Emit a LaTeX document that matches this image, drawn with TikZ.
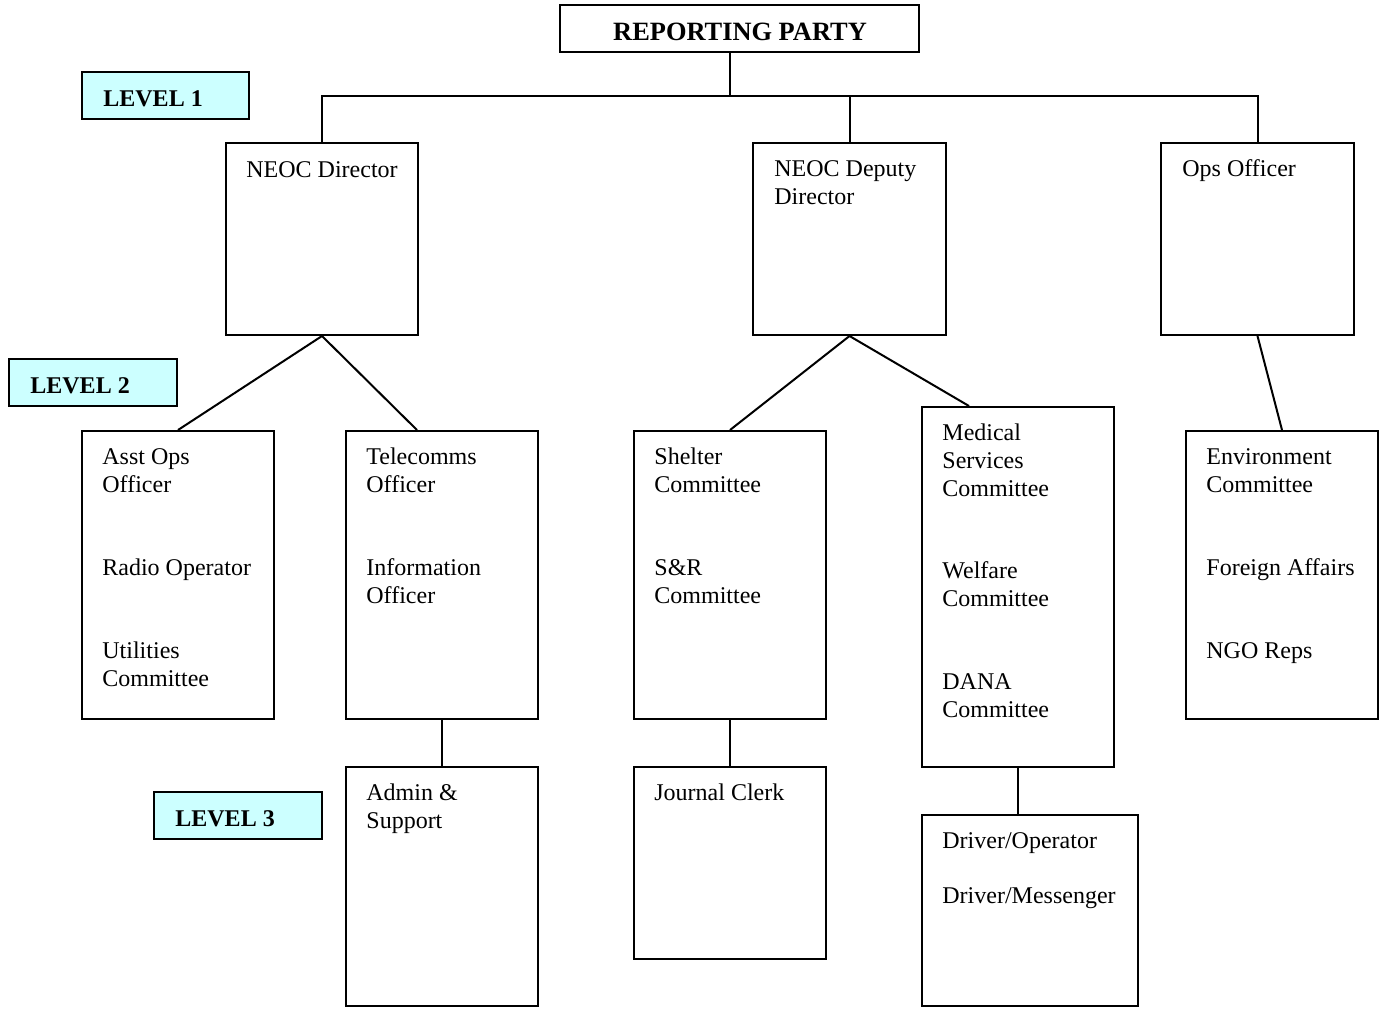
\documentclass[tikz,border=0pt]{standalone}
\usepackage{fontspec}
\setmainfont{Liberation Serif}
\usetikzlibrary{fit}
\definecolor{lvlcyan}{HTML}{CCFFFF}
\begin{document}
\begin{tikzpicture}[x=0.5pt,y=-0.5pt,
  every node/.style={font=\fontsize{12}{14}\selectfont},
  box/.style={draw=black,line width=1pt,inner sep=0pt},
  lvl/.style={draw=black,line width=1pt,inner sep=0pt,fill=lvlcyan},
  txt/.style={anchor=base west,inner sep=0pt,align=left},
  lvltxt/.style={anchor=base west,inner sep=0pt,font=\fontsize{12}{14}\selectfont\bfseries},
  conn/.style={line width=1pt}]
\useasboundingbox (0,0) rectangle (1385,1008);
% top
\node[box,fit={(560,5) (919,52)}] (rp) {};
\node[inner sep=0pt,anchor=base,font=\fontsize{13.2}{15}\selectfont\bfseries] (rpt) at (740,40) {REPORTING PARTY};
% level labels
\node[lvl,fit={(82,72) (249,119)}] (l1) {};
\node[lvltxt] (l1t) at (103,106) {LEVEL 1};
\node[lvl,fit={(9,359) (177,406)}] (l2) {};
\node[lvltxt] (l2t) at (30,393) {LEVEL 2};
\node[lvl,fit={(154,792) (322,839)}] (l3) {};
\node[lvltxt] (l3t) at (175,826) {LEVEL 3};
% level 1 boxes
\node[box,fit={(226,143) (418,335)}] (dir) {};
\node[box,fit={(753,143) (946,335)}] (dep) {};
\node[box,fit={(1161,143) (1354,335)}] (ops) {};
\node[txt] at (246,177) {NEOC Director};
\node[txt] at (774,204) {NEOC Deputy\\Director};
\node[txt] at (1182,176) {Ops Officer};
% level 2 boxes
\node[box,fit={(82,431) (274,719)}] (asst) {};
\node[box,fit={(346,431) (538,719)}] (tel) {};
\node[box,fit={(634,431) (826,719)}] (shel) {};
\node[box,fit={(922,407) (1114,767)}] (med) {};
\node[box,fit={(1186,431) (1378,719)}] (env) {};
\node[txt] at (102,492) {Asst Ops\\Officer};
\node[txt] at (102,575) {Radio Operator};
\node[txt] at (102,686) {Utilities\\Committee};
\node[txt] at (366,492) {Telecomms\\Officer};
\node[txt] at (366,603) {Information\\Officer};
\node[txt] at (654,492) {Shelter\\Committee};
\node[txt] at (654,603) {S\&R\\Committee};
\node[txt] at (942,496) {Medical\\Services\\Committee};
\node[txt] at (942,606) {Welfare\\Committee};
\node[txt] at (942,717) {DANA\\Committee};
\node[txt] at (1206,492) {Environment\\Committee};
\node[txt] at (1206,575) {Foreign Affairs};
\node[txt] at (1206,658) {NGO Reps};
% level 3 boxes
\node[box,fit={(346,767) (538,1006)}] (adm) {};
\node[box,fit={(634,767) (826,959)}] (jc) {};
\node[box,fit={(922,815) (1138,1006)}] (drv) {};
\node[txt] at (366,828) {Admin \&\\Support};
\node[txt] at (654,800) {Journal Clerk};
\node[txt] at (942,848) {Driver/Operator};
\node[txt] at (942,903) {Driver/Messenger};
% connectors
\coordinate (bus) at (730,96);
\draw[conn] ([xshift=-4.75pt]rp.south) -- (bus);
\draw[conn] (dir.north) |- (bus) -| (ops.north);
\draw[conn] (dep.north) -- (dep.north |- bus);
\draw[conn] (dir.south) -- (asst.north);
\draw[conn] (dir.south) -- ([xshift=36pt]tel.north west);
\draw[conn] (dep.south) -- (shel.north);
\draw[conn] (dep.south) -- ([xshift=24pt]med.north west);
\draw[conn] (ops.south) -- (env.north);
\draw[conn] (tel.south) -- (adm.north);
\draw[conn] (shel.south) -- (jc.north);
\draw[conn] (med.south) -- (med.south |- drv.north);
\end{tikzpicture}
\end{document}
